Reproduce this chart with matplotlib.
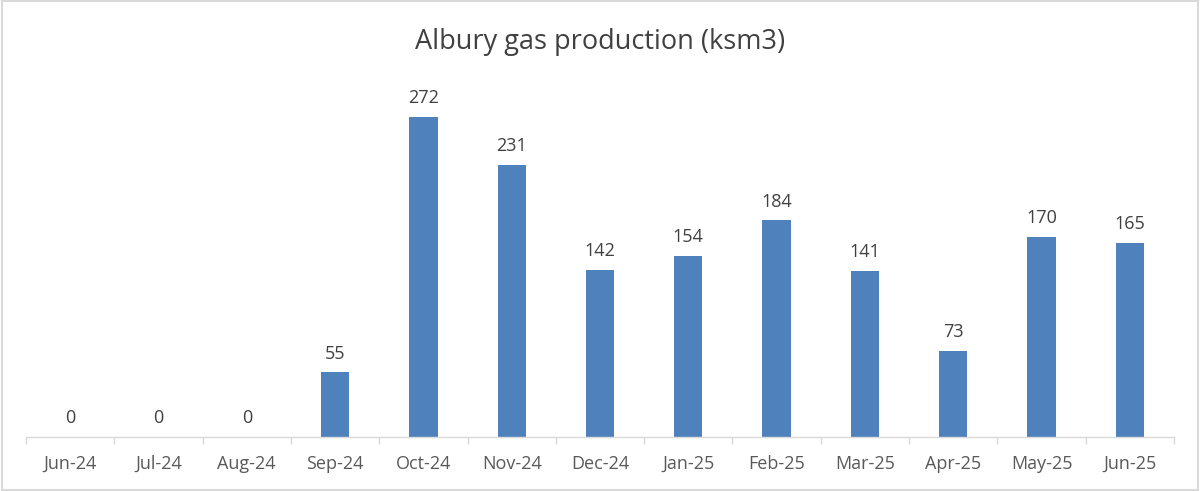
import matplotlib.pyplot as plt
import numpy as np
from matplotlib.patches import Rectangle

months = ['Jun-24', 'Jul-24', 'Aug-24', 'Sep-24', 'Oct-24', 'Nov-24', 'Dec-24',
          'Jan-25', 'Feb-25', 'Mar-25', 'Apr-25', 'May-25', 'Jun-25']
production = [0, 0, 0, 55, 272, 231, 142, 154, 184, 141, 73, 170, 165]

plt.rcParams['font.family'] = ['Open Sans', 'DejaVu Sans']

fig = plt.figure(figsize=(12, 4.91), dpi=100)
ax = fig.add_axes([0.0217, 0.110, 0.9566, 0.719])

x = np.arange(len(months))
bars = ax.bar(x, production, width=0.32, color='#4f81bd', zorder=2)

ax.set_xlim(-0.5, len(months) - 0.5)
ax.set_ylim(0, 300)

for rect, v in zip(bars, production):
    ax.annotate(f'{v}', xy=(rect.get_x() + rect.get_width() / 2, v),
                xytext=(0, 7), textcoords='offset points',
                ha='center', va='bottom', fontsize=13, color='#404040')

for s in ['top', 'right', 'left']:
    ax.spines[s].set_visible(False)
ax.spines['bottom'].set_color('#d9d9d9')
ax.spines['bottom'].set_linewidth(1.0)
ax.set_yticks([])

ax.set_xticks(x)
ax.set_xticklabels(months, fontsize=13, color='#595959')
ax.tick_params(axis='x', which='major', length=0, pad=13)
ax.set_xticks(np.arange(-0.5, len(months), 1), minor=True)
ax.tick_params(axis='x', which='minor', length=5, color='#d9d9d9', width=1.0)

fig.text(0.5, 0.915, 'Albury gas production (ksm3)', ha='center', va='center',
         fontsize=19.5, color='#404040')

fig.patches.append(Rectangle((0.002, 0.003), 0.996, 0.994, transform=fig.transFigure,
                             fill=False, edgecolor='#d9d9d9', linewidth=1.5))

fig.savefig('out.png', dpi=100)
